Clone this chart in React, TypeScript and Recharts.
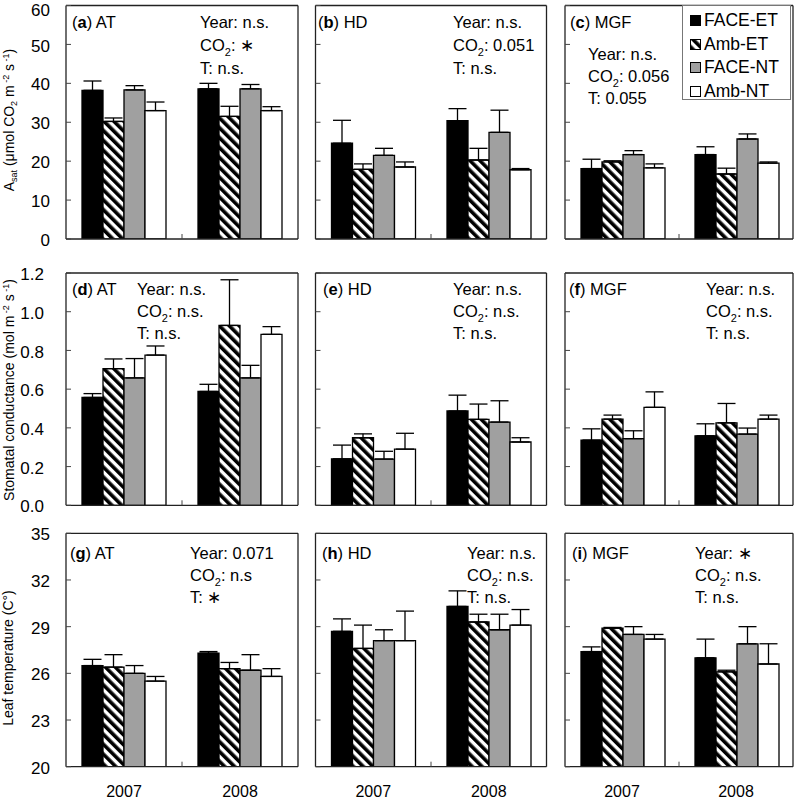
import React from 'react';
import { BarChart, Bar, XAxis, YAxis, ErrorBar, Legend } from 'recharts';

const years = ['2007', '2008'];
const seriesNames = ['FACE-ET', 'Amb-ET', 'FACE-NT', 'Amb-NT'];
const seriesKeys = ['fet', 'aet', 'fnt', 'ant'];

const asatTicks = [0, 10, 20, 30, 40, 50, 60];
const gsTicks = [0, 0.2, 0.4, 0.6, 0.8, 1.0, 1.2];
const tleafTicks = [20, 23, 26, 29, 32, 35];

// rows = years (2007, 2008); columns = FACE-ET, Amb-ET, FACE-NT, Amb-NT
const asatAT = [[38.2, 30.2, 38.3, 33.0], [38.6, 31.5, 38.6, 33.0]];
const asatATErr = [[2.4, 0.9, 1.1, 2.2], [1.4, 2.6, 1.1, 1.0]];
const asatHD = [[24.6, 17.9, 21.5, 18.5], [30.4, 20.3, 27.4, 17.8]];
const asatHDErr = [[5.9, 1.4, 1.8, 1.3], [3.1, 3.0, 5.7, 0.3]];
const asatMGF = [[18.1, 19.8, 21.7, 18.3], [21.7, 16.7, 25.7, 19.5]];
const asatMGFErr = [[2.4, 0.3, 1.0, 1.0], [2.0, 1.5, 1.3, 0.3]];

const gsAT = [[0.557, 0.706, 0.658, 0.776], [0.588, 0.929, 0.658, 0.883]];
const gsATErr = [[0.02, 0.05, 0.1, 0.047], [0.037, 0.236, 0.065, 0.04]];
const gsHD = [[0.24, 0.349, 0.239, 0.29], [0.487, 0.444, 0.43, 0.327]];
const gsHDErr = [[0.071, 0.02, 0.04, 0.082], [0.082, 0.079, 0.11, 0.022]];
const gsMGF = [[0.337, 0.445, 0.344, 0.506], [0.359, 0.426, 0.368, 0.445]];
const gsMGFErr = [[0.058, 0.021, 0.041, 0.08], [0.062, 0.1, 0.031, 0.021]];

const tleafAT = [[26.5, 26.4, 26.0, 25.5], [27.3, 26.3, 26.2, 25.8]];
const tleafATErr = [[0.4, 0.8, 0.5, 0.3], [0.1, 0.4, 1.0, 0.5]];
const tleafHD = [[28.7, 27.6, 28.1, 28.1], [30.3, 29.3, 28.8, 29.1]];
const tleafHDErr = [[0.8, 1.5, 0.7, 1.9], [1.0, 0.5, 1.0, 1.0]];
const tleafMGF = [[27.4, 28.9, 28.5, 28.2], [27.0, 26.1, 27.9, 26.6]];
const tleafMGFErr = [[0.3, 0.05, 0.5, 0.3], [1.2, 0.1, 1.1, 1.3]];

const FONT = '"Liberation Sans", Arial, Helvetica, sans-serif';
const GRAY = '#a0a0a0';
const W = 796;
const H = 799;

const ROWS = [
  { top: 5.5, bottom: 239, domain: [0, 60], ticks: asatTicks, fmt: (v: number) => String(v), margin: 16 },
  { top: 273, bottom: 505.3, domain: [0, 1.2], ticks: gsTicks, fmt: (v: number) => v.toFixed(1), margin: 22 },
  { top: 533.3, bottom: 766.7, domain: [20, 35], ticks: tleafTicks, fmt: (v: number) => String(v), margin: 16 },
];
const COLS = [
  { left: 66, right: 298 },
  { left: 315.5, right: 546.5 },
  { left: 565, right: 793 },
];

type StatLine = string | { co2: string };

const panels = [
  { id: 'a', site: 'AT', row: 0, col: 0, means: asatAT, errs: asatATErr, lx: 72, ly: 28, sx: 200, sy: [28, 51, 74], stats: ['Year: n.s.', { co2: ': \u2217' }, 'T: n.s.'] as StatLine[] },
  { id: 'b', site: 'HD', row: 0, col: 1, means: asatHD, errs: asatHDErr, lx: 318, ly: 28, sx: 453, sy: [28, 51, 74], stats: ['Year: n.s.', { co2: ': 0.051' }, 'T: n.s.'] as StatLine[] },
  { id: 'c', site: 'MGF', row: 0, col: 2, means: asatMGF, errs: asatMGFErr, lx: 570, ly: 28, sx: 588, sy: [60, 82, 104], stats: ['Year: n.s.', { co2: ': 0.056' }, 'T: 0.055'] as StatLine[] },
  { id: 'd', site: 'AT', row: 1, col: 0, means: gsAT, errs: gsATErr, lx: 72, ly: 295, sx: 137, sy: [295, 317, 339], stats: ['Year: n.s.', { co2: ': n.s.' }, 'T: n.s.'] as StatLine[] },
  { id: 'e', site: 'HD', row: 1, col: 1, means: gsHD, errs: gsHDErr, lx: 323, ly: 295, sx: 453, sy: [295, 317, 339], stats: ['Year: n.s.', { co2: ': n.s.' }, 'T: n.s.'] as StatLine[] },
  { id: 'f', site: 'MGF', row: 1, col: 2, means: gsMGF, errs: gsMGFErr, lx: 569, ly: 295, sx: 706, sy: [295, 317, 339], stats: ['Year: n.s.', { co2: ': n.s.' }, 'T: n.s.'] as StatLine[] },
  { id: 'g', site: 'AT', row: 2, col: 0, means: tleafAT, errs: tleafATErr, lx: 70, ly: 559, sx: 190, sy: [559, 581, 603], stats: ['Year: 0.071', { co2: ': n.s' }, 'T: \u2217'] as StatLine[] },
  { id: 'h', site: 'HD', row: 2, col: 1, means: tleafHD, errs: tleafHDErr, lx: 322, ly: 559, sx: 467, sy: [559, 581, 603], stats: ['Year: n.s.', { co2: ': n.s.' }, 'T: n.s.'] as StatLine[] },
  { id: 'i', site: 'MGF', row: 2, col: 2, means: tleafMGF, errs: tleafMGFErr, lx: 572, ly: 559, sx: 695, sy: [559, 581, 603], stats: ['Year: \u2217', { co2: ': n.s.' }, 'T: n.s.'] as StatLine[] },
];

const TXT = 16.5;
const AX = 1; // axis box thickness (must be > 0 for recharts to draw the axis)

function YTick(props: any) {
  const { x, y, payload, showLabel, margin, fmt } = props;
  const ax = x + margin;
  const baseline = Math.max(y + 0.42 * 17, 15.8);
  return (
    <g>
      <line x1={ax} x2={ax + 5} y1={y} y2={y} stroke="#444" strokeWidth={1} />
      {showLabel && (
        <text x={x} y={baseline} textAnchor="end" fontSize={17} fontFamily={FONT} fill="#000">
          {fmt(payload.value)}
        </text>
      )}
    </g>
  );
}

function XTick(props: any) {
  const { x, y, payload, index, showLabel } = props;
  const off = payload && typeof payload.offset === 'number' ? payload.offset : 0;
  return (
    <g>
      {index === 0 && off > 0 && (
        <line x1={x + off} x2={x + off} y1={y} y2={y - 5} stroke="#444" strokeWidth={1} />
      )}
      {showLabel && (
        <text x={x} y={y + 30} textAnchor="middle" fontSize={16} fontFamily={FONT} fill="#000">
          {payload.value}
        </text>
      )}
    </g>
  );
}

function LegendContent(props: any) {
  const payload = [...(props.payload || [])].sort(
    (a: any, b: any) => seriesNames.indexOf(a.value) - seriesNames.indexOf(b.value)
  );
  return (
    <div
      style={{
        width: 107,
        height: 93,
        border: '1px solid #777',
        background: '#fff',
        fontFamily: FONT,
        fontSize: 17.5,
        position: 'relative',
        boxSizing: 'content-box',
      }}
    >
      {payload.map((e: any, i: number) => (
        <div key={i} style={{ position: 'absolute', left: 0, top: 3 + i * 23.5, height: 23.5, width: 107 }}>
          <svg width={11} height={11} style={{ position: 'absolute', left: 7, top: 6 }}>
            <rect x={0.5} y={0.5} width={10} height={10} fill={e.color} stroke="#000" strokeWidth={1} />
          </svg>
          <span style={{ position: 'absolute', left: 21, top: 0, lineHeight: '23.5px', color: '#000', whiteSpace: 'nowrap' }}>
            {e.value}
          </span>
        </div>
      ))}
    </div>
  );
}

function Panel({ p }: { p: (typeof panels)[number] }) {
  const row = ROWS[p.row];
  const col = COLS[p.col];
  const data = years.map((yr, i) => {
    const o: any = { year: yr };
    seriesKeys.forEach((k, j) => {
      o[k] = p.means[i][j];
      o[k + 'E'] = [0, p.errs[i][j]];
    });
    return o;
  });
  const hatchId = 'hatch-' + p.id;
  const fills = ['#000', `url(#${hatchId})`, GRAY, '#fff'];
  const frame = { stroke: '#222', strokeWidth: 1.3 };
  return (
    <div style={{ position: 'absolute', left: 0, top: 0 }}>
      <BarChart
        width={W}
        height={H}
        data={data}
        margin={{ top: row.top - AX, bottom: H - row.bottom - AX, left: col.left - AX, right: W - col.right - AX }}
        barCategoryGap={16}
        barGap={0}
      >
        <defs>
          <pattern id={hatchId} patternUnits="userSpaceOnUse" width={7} height={7} patternTransform="rotate(-45)">
            <rect x={0} y={0} width={7} height={7} fill="#fff" />
            <rect x={0} y={0} width={3.6} height={7} fill="#000" />
          </pattern>
        </defs>
        <XAxis
          dataKey="year"
          height={AX}
          tickSize={0}
          tickMargin={0}
          axisLine={frame}
          tickLine={false}
          interval={0}
          tick={(tp: any) => <XTick {...tp} showLabel={p.row === 2} />}
        />
        <XAxis xAxisId="top" orientation="top" dataKey="year" height={AX} tick={false} tickLine={false} axisLine={frame} />
        <YAxis
          type="number"
          domain={row.domain}
          ticks={row.ticks}
          interval={0}
          width={AX}
          tickSize={0}
          tickMargin={row.margin}
          axisLine={frame}
          tickLine={false}
          allowDataOverflow
          tick={(tp: any) => <YTick {...tp} showLabel={p.col === 0} margin={row.margin} fmt={row.fmt} />}
        />
        <YAxis yAxisId="right" orientation="right" type="number" domain={row.domain} width={AX} tick={false} tickLine={false} axisLine={frame} />
        {seriesKeys.map((k, j) => (
          <Bar key={k} dataKey={k} name={seriesNames[j]} fill={fills[j]} stroke="#000" strokeWidth={1.3} isAnimationActive={false}>
            <ErrorBar dataKey={k + 'E'} direction="y" width={9} stroke="#000" strokeWidth={1.3} />
          </Bar>
        ))}
        {p.id === 'c' && (
          <Legend
            layout="vertical"
            align="center"
            verticalAlign="middle"
            content={(lp: any) => <LegendContent {...lp} />}
            wrapperStyle={{ left: 682, top: 5, width: 109, height: 95, margin: 0, padding: 0 }}
          />
        )}
        <text x={p.lx} y={p.ly} fontSize={TXT} fontFamily={FONT} fill="#000">
          (<tspan fontWeight="bold">{p.id}</tspan>) {p.site}
        </text>
        {p.stats.map((s, i) =>
          typeof s === 'string' ? (
            <text key={i} x={p.sx} y={p.sy[i]} fontSize={TXT} fontFamily={FONT} fill="#000">
              {s}
            </text>
          ) : (
            <text key={i} x={p.sx} y={p.sy[i]} fontSize={TXT} fontFamily={FONT} fill="#000">
              CO<tspan dy={5} fontSize={11}>2</tspan>
              <tspan dy={-5}>{s.co2}</tspan>
            </text>
          )
        )}
        {p.col === 0 && p.row === 0 && (
          <text transform="translate(14,120) rotate(-90)" textAnchor="middle" fontSize={14} fontFamily={FONT} fill="#000">
            A<tspan dy={3} fontSize={9}>sat</tspan>
            <tspan dy={-3}> (μmol CO</tspan>
            <tspan dy={3} fontSize={9}>2</tspan>
            <tspan dy={-3}> m</tspan>
            <tspan dy={-5} fontSize={9}> -2</tspan>
            <tspan dy={5}> s</tspan>
            <tspan dy={-5} fontSize={9}> -1</tspan>
            <tspan dy={5}>)</tspan>
          </text>
        )}
        {p.col === 0 && p.row === 1 && (
          <text transform="translate(13.5,390) rotate(-90)" textAnchor="middle" fontSize={14} fontFamily={FONT} fill="#000">
            Stomatal conductance (mol m<tspan dy={-5} fontSize={9}> -2</tspan>
            <tspan dy={5}> s</tspan>
            <tspan dy={-5} fontSize={9}> -1</tspan>
            <tspan dy={5}>)</tspan>
          </text>
        )}
        {p.col === 0 && p.row === 2 && (
          <text transform="translate(13,658) rotate(-90)" textAnchor="middle" fontSize={14} fontFamily={FONT} fill="#000">
            Leaf temperature (C°)
          </text>
        )}
      </BarChart>
    </div>
  );
}

export default function App() {
  return (
    <div style={{ position: 'absolute', left: 0, top: 0, width: W, height: H, background: '#fff', fontFamily: FONT }}>
      {panels.map((p) => (
        <Panel key={p.id} p={p} />
      ))}
    </div>
  );
}
